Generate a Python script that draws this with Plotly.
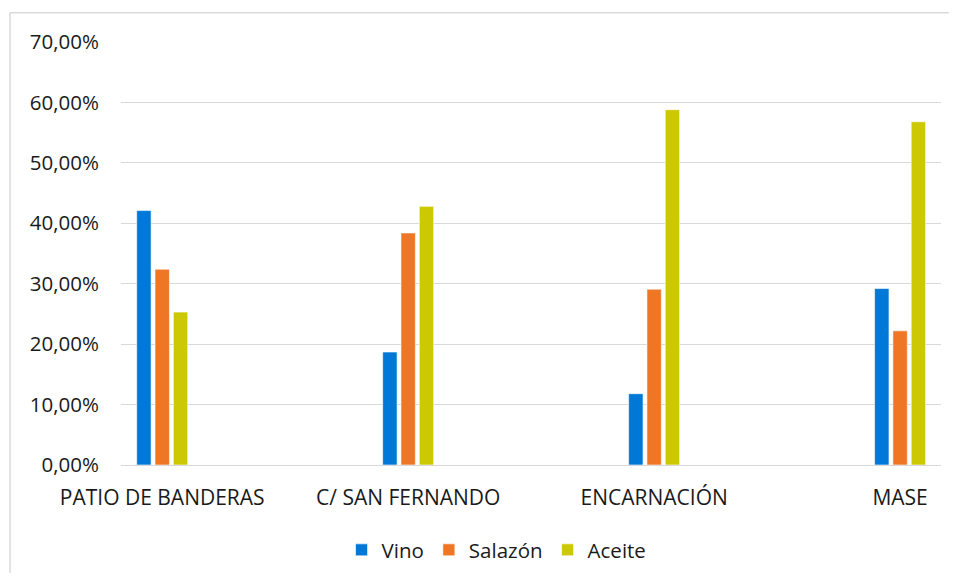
import plotly.graph_objects as go

categories = ["PATIO DE BANDERAS", "C/ SAN FERNANDO", "ENCARNACIÓN", "MASE"]
vino = [0.421, 0.187, 0.118, 0.292]
salazon = [0.324, 0.384, 0.291, 0.222]
aceite = [0.253, 0.428, 0.588, 0.568]

series = [("Vino", vino, "#0078D7"), ("Salazón", salazon, "#EE7624"), ("Aceite", aceite, "#CCC804")]

fig = go.Figure()
for name, vals, col in series:
    fig.add_trace(go.Bar(x=categories, y=vals, name=name,
                         marker=dict(color=col, line=dict(color="rgba(255,255,255,0.6)", width=1))))

font = "Open Sans, Liberation Sans, sans-serif"
border = dict(color="#d9d9d9", width=1.5)
fig.update_layout(
    width=941, height=565,
    barmode="group", bargap=0.7767, bargroupgap=0.213,
    separators=",.",
    margin=dict(l=113, r=8.3, t=34, b=107.5, pad=0, autoexpand=False),
    paper_bgcolor="white", plot_bgcolor="white",
    font=dict(family=font, size=20, color="#1a1a1a"),
    xaxis=dict(range=[-0.1676, 3.1663], showgrid=False, showline=False, ticks="",
               tickfont=dict(size=21), ticklabelstandoff=18),
    yaxis=dict(range=[0, 0.7], dtick=0.1, tickformat=".2%", showgrid=True, gridcolor="#d9d9d9", gridwidth=1,
               zeroline=True, zerolinecolor="#d9d9d9", zerolinewidth=1, showline=False, ticks="",
               tickfont=dict(size=20.5), ticklabelstandoff=21),
    legend=dict(orientation="h", x=0.458, xanchor="center", yref="container", y=0.0407, yanchor="middle",
                font=dict(size=20.5), itemwidth=30, traceorder="normal"),
    showlegend=True,
    shapes=[
        dict(type="line", xref="paper", yref="paper", x0=-0.1354, x1=-0.1354, y0=-0.255, y1=1.0692, line=border, layer="below"),
        dict(type="line", xref="paper", yref="paper", x0=-0.1354, x1=1.0095, y0=1.0692, y1=1.0692, line=border, layer="below"),
    ],
)
fig.write_html("out.html")
